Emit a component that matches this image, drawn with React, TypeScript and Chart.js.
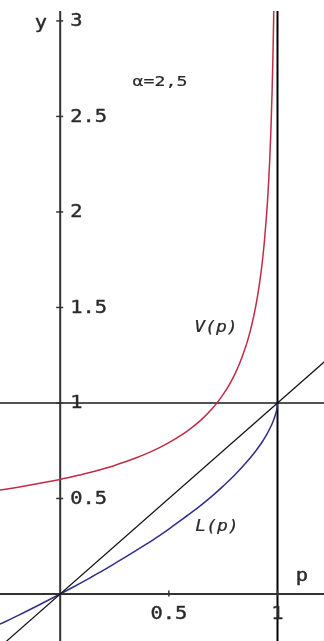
import { useEffect, useRef } from "react";
import { Chart, registerables } from "chart.js";

Chart.register(...registerables);

// Pareto case, α = 2,5
const alphaLabel = "α=2,5";

// L(p): share curve, sampled points (p, L)
const lorenzP = [-0.277, -0.2, -0.1, 0, 0.05, 0.1, 0.15, 0.2, 0.25, 0.3, 0.35, 0.4, 0.45, 0.5, 0.55, 0.6, 0.65, 0.7, 0.75, 0.8, 0.85, 0.9, 0.93, 0.95, 0.97, 0.98, 0.99, 0.995, 0.997, 0.999, 1];
const lorenzY = [-0.158, -0.116, -0.059, 0, 0.03, 0.061, 0.093, 0.125, 0.159, 0.193, 0.228, 0.264, 0.301, 0.34, 0.381, 0.423, 0.467, 0.514, 0.565, 0.619, 0.68, 0.749, 0.797, 0.834, 0.878, 0.904, 0.937, 0.958, 0.969, 0.984, 1];

// V(p): sampled points (p, V)
const vP = [-0.277, -0.2, -0.1, 0, 0.05, 0.1, 0.15, 0.2, 0.25, 0.3, 0.35, 0.4, 0.45, 0.5, 0.55, 0.6, 0.65, 0.7, 0.725, 0.75, 0.775, 0.8, 0.825, 0.85, 0.865, 0.88, 0.9, 0.91, 0.92, 0.93, 0.94, 0.95, 0.955, 0.96, 0.965, 0.97, 0.975, 0.978, 0.98, 0.982, 0.985];
const vY = [0.544, 0.558, 0.578, 0.6, 0.612, 0.626, 0.64, 0.656, 0.673, 0.692, 0.713, 0.736, 0.762, 0.792, 0.826, 0.866, 0.913, 0.971, 1.006, 1.045, 1.09, 1.142, 1.205, 1.282, 1.337, 1.401, 1.507, 1.572, 1.648, 1.738, 1.849, 1.989, 2.074, 2.174, 2.293, 2.44, 2.624, 2.762, 2.869, 2.993, 3.219];

// diagonal y = p
const diagP = [-0.4, 1.4];
const diagY = [-0.4, 1.4];

// axis ticks
const yTicks = [0.5, 1, 1.5, 2, 2.5, 3];
const yTickLabels = ["0.5", "1", "1.5", "2", "2.5", "3"];
const xTicks = [0.5, 1];
const xTickLabels = ["0.5", "1"];

const X_MIN = -0.277;
const X_MAX = 1.214;
const Y_MIN = -0.246;
const Y_MAX = 3.052;

const MONO = '"DejaVu Sans Mono", monospace';

function wideText(
  ctx: CanvasRenderingContext2D,
  text: string,
  x: number,
  y: number,
  font: string,
  align: CanvasTextAlign,
  sx: number,
  weight = 0.4
) {
  ctx.save();
  ctx.translate(x, y);
  ctx.scale(sx, 1);
  ctx.font = font;
  ctx.textAlign = align;
  ctx.textBaseline = "middle";
  ctx.fillStyle = "#2a2a2a";
  ctx.strokeStyle = "#2a2a2a";
  ctx.lineWidth = weight;
  ctx.lineJoin = "round";
  ctx.fillText(text, 0, 0);
  if (weight > 0) ctx.strokeText(text, 0, 0);
  ctx.restore();
}

function seg(
  ctx: CanvasRenderingContext2D,
  x1: number,
  y1: number,
  x2: number,
  y2: number,
  color: string,
  w: number
) {
  ctx.beginPath();
  ctx.moveTo(x1, y1);
  ctx.lineTo(x2, y2);
  ctx.strokeStyle = color;
  ctx.lineWidth = w;
  ctx.stroke();
}

const axesPlugin = {
  id: "crossAxes",
  beforeDatasetsDraw(chart: any) {
    const { ctx, chartArea, scales } = chart;
    const { left, right, top, bottom } = chartArea;
    const xs = scales.x;
    const ys = scales.y;
    const x0 = xs.getPixelForValue(0);
    const y0 = ys.getPixelForValue(0);
    const x1 = xs.getPixelForValue(1);
    const y1 = ys.getPixelForValue(1);
    ctx.save();
    seg(ctx, left, y1, right, y1, "#1a1a1a", 1.6);
    seg(ctx, x1, top, x1, bottom, "#000", 2);
    seg(ctx, left, y0, right, y0, "#333", 2);
    seg(ctx, x0, top, x0, bottom, "#333", 2);
    yTicks.forEach((v) => {
      const py = ys.getPixelForValue(v);
      seg(ctx, x0 - 4, py, x0 + 3, py, "#333", 1.5);
    });
    xTicks.forEach((v) => {
      const px = xs.getPixelForValue(v);
      seg(ctx, px, y0 - 3.5, px, y0 + 2.5, "#333", 1.5);
    });
    ctx.restore();
  },
  afterDraw(chart: any) {
    const { ctx, scales } = chart;
    const xs = scales.x;
    const ys = scales.y;
    const x0 = xs.getPixelForValue(0);
    const y0 = ys.getPixelForValue(0);
    yTicks.forEach((v, i) => {
      const py = ys.getPixelForValue(v);
      wideText(ctx, yTickLabels[i], x0 + 10, py + 1, `17px ${MONO}`, "left", 1.2);
    });
    xTicks.forEach((v, i) => {
      const px = xs.getPixelForValue(v);
      wideText(ctx, xTickLabels[i], px, y0 + 21, `17px ${MONO}`, "center", 1.2);
    });
    wideText(ctx, "y", 41, 24, `17px ${MONO}`, "center", 1.2);
    wideText(ctx, "p", 302, 577, `17px ${MONO}`, "center", 1.2);
    wideText(ctx, alphaLabel, 160, 82, `14px ${MONO}`, "center", 1.3, 0.2);
    wideText(ctx, "V(p)", 216, 328, `italic 15px ${MONO}`, "center", 1.2, 0.2);
    wideText(ctx, "L(p)", 217, 527, `italic 15px ${MONO}`, "center", 1.2, 0.2);
  },
};

export default function App() {
  const canvasRef = useRef<HTMLCanvasElement | null>(null);

  useEffect(() => {
    const canvas = canvasRef.current;
    if (!canvas) return;
    const toPts = (xs: number[], ys: number[]) => xs.map((x, i) => ({ x, y: ys[i] }));
    const chart = new Chart(canvas, {
      type: "scatter",
      data: {
        datasets: [
          {
            data: toPts(diagP, diagY),
            showLine: true,
            borderColor: "#111",
            borderWidth: 1.2,
            pointRadius: 0,
          },
          {
            data: toPts(lorenzP, lorenzY),
            showLine: true,
            borderColor: "#2e2e8c",
            borderWidth: 1.5,
            pointRadius: 0,
            cubicInterpolationMode: "monotone",
          },
          {
            data: toPts(vP, vY),
            showLine: true,
            borderColor: "#c02c44",
            borderWidth: 1.5,
            pointRadius: 0,
            cubicInterpolationMode: "monotone",
          },
        ],
      },
      options: {
        responsive: false,
        animation: false,
        devicePixelRatio: 1,
        layout: { padding: { top: 11, left: 0, right: 0, bottom: 0 } },
        plugins: { legend: { display: false }, tooltip: { enabled: false } },
        scales: {
          x: { type: "linear", min: X_MIN, max: X_MAX, display: false },
          y: { type: "linear", min: Y_MIN, max: Y_MAX, display: false },
        },
      },
      plugins: [axesPlugin],
    });
    return () => chart.destroy();
  }, []);

  return (
    <div style={{ position: "fixed", left: 0, top: 0, width: 324, height: 641, background: "#fff" }}>
      <canvas ref={canvasRef} width={324} height={641} style={{ width: 324, height: 641, display: "block" }} />
    </div>
  );
}
